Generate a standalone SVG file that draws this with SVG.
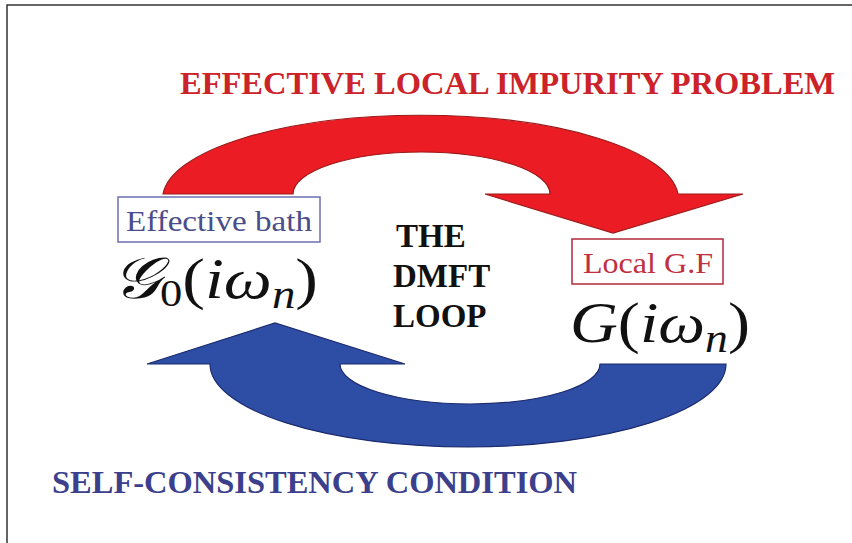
<svg xmlns="http://www.w3.org/2000/svg" width="852" height="543" viewBox="0 0 852 543">
<style>
.title{font-family:"Liberation Serif","Times New Roman",serif;font-weight:bold;font-size:32px}
.center{font-family:"Liberation Serif","Times New Roman",serif;font-weight:bold;font-size:33px;fill:#111}
.lbl{font-family:"Liberation Serif","Times New Roman",serif;font-size:30px}
.math{font-family:"Liberation Serif","DejaVu Serif",serif;font-style:italic;font-size:58px;fill:#111}
.up{font-style:normal}
</style>
<rect width="852" height="543" fill="#fff"/>
<path d="M7,543 V5 H852" fill="none" stroke="#333" stroke-width="1.5"/>
<g id="connectors">
  <path id="red-arrow" d="M163,194 A258,84 0 0 1 678,194 L743,194 L613,233 L485,194 L550,194 A128.5,42 0 0 0 293,194 Z" fill="#ec1c24" stroke="#9b1b1b" stroke-width="1.2"/>
  <path id="blue-arrow" d="M726,364 A258,83 0 0 1 210,364 L147,364 L275,323 L405,364 L340,364 A130,40 0 0 0 600,364 Z" fill="#2e4ea6" stroke="#1c2b6e" stroke-width="1.2"/>
</g>
<text class="title" x="180" y="94" fill="#cc2229" textLength="655" lengthAdjust="spacingAndGlyphs">EFFECTIVE LOCAL IMPURITY PROBLEM</text>
<text class="title" x="52" y="493" fill="#3c3f8c" textLength="525" lengthAdjust="spacingAndGlyphs">SELF-CONSISTENCY CONDITION</text>
<g id="center-label">
  <text class="center" x="396" y="247">THE</text>
  <text class="center" x="393" y="287">DMFT</text>
  <text class="center" x="393" y="327">LOOP</text>
</g>
<g id="bath">
  <rect x="118" y="197" width="202" height="45" fill="#fff" stroke="#6b6fb0" stroke-width="1.5"/>
  <text class="lbl" x="126" y="231" fill="#4b4d8a" textLength="186" lengthAdjust="spacingAndGlyphs">Effective bath</text>
  <text class="math" x="112" y="298" textLength="206" lengthAdjust="spacingAndGlyphs">𝒢<tspan class="up" font-size="38" dy="8">0</tspan><tspan class="up" dy="-8">(</tspan>iω<tspan font-size="40" dy="10">n</tspan><tspan class="up" dy="-10">)</tspan></text>
</g>
<g id="local">
  <rect x="572" y="239" width="151" height="45" fill="#fff" stroke="#b02a3a" stroke-width="1.5"/>
  <text class="lbl" x="583" y="273" fill="#c03040" textLength="130" lengthAdjust="spacingAndGlyphs">Local G.F</text>
  <text class="math" x="570" y="342" textLength="180" lengthAdjust="spacingAndGlyphs">G<tspan class="up">(</tspan>iω<tspan font-size="40" dy="10">n</tspan><tspan class="up" dy="-10">)</tspan></text>
</g>
</svg>
